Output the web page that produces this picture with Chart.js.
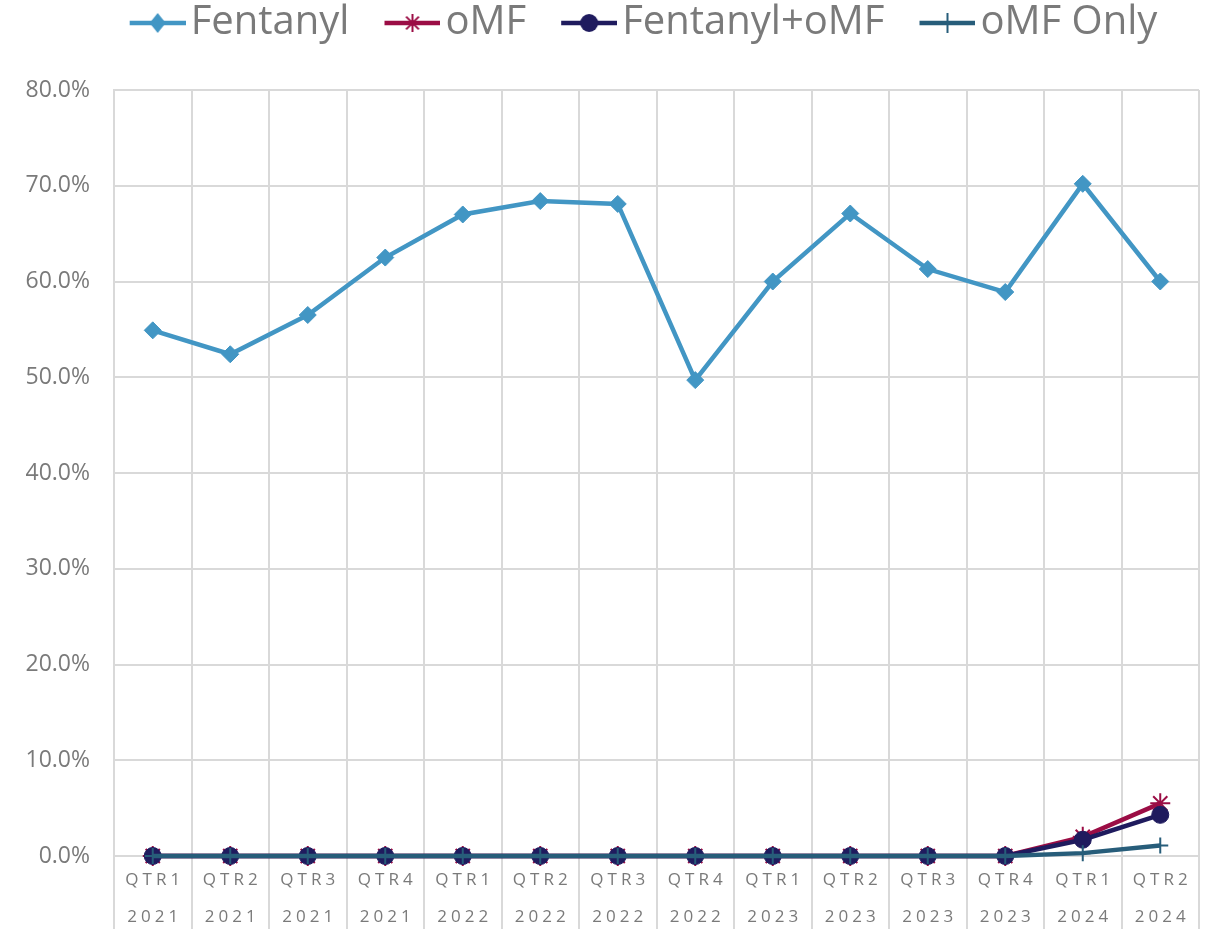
<!DOCTYPE html>
<html>
<head>
<meta charset="utf-8">
<script src="https://cdn.jsdelivr.net/npm/chart.js@4.4.1/dist/chart.umd.min.js"></script>
<style>
    html, body { margin: 0; padding: 0; background: #fff; }
    #wrap { width: 1211px; height: 929px; }
</style>
</head>
<body>
<div id="wrap"><canvas id="trendChart" width="1211" height="929"></canvas></div>
<script>
// Chart data (percent values)
const quarters = ['QTR1', 'QTR2', 'QTR3', 'QTR4', 'QTR1', 'QTR2', 'QTR3', 'QTR4', 'QTR1', 'QTR2', 'QTR3', 'QTR4', 'QTR1', 'QTR2'];
const years = ['2021', '2021', '2021', '2021', '2022', '2022', '2022', '2022', '2023', '2023', '2023', '2023', '2024', '2024'];
const fentanyl = [54.9, 52.4, 56.5, 62.5, 67.0, 68.4, 68.1, 49.7, 60.0, 67.1, 61.3, 58.9, 70.2, 60.0];
const omf = [0, 0, 0, 0, 0, 0, 0, 0, 0, 0, 0, 0, 2.0, 5.5];
const fentanylOmf = [0, 0, 0, 0, 0, 0, 0, 0, 0, 0, 0, 0, 1.7, 4.3];
const omfOnly = [0, 0, 0, 0, 0, 0, 0, 0, 0, 0, 0, 0, 0.3, 1.1];
const yMin = 0;
const yMax = 80;
const yStep = 10;

const GRID = '#D9D9D9';
const TEXT = '#7A7A7A';
const colors = {
    fentanyl: '#4296C4',
    omf: '#9B0D45',
    fentanylOmf: '#1F1B5E',
    omfOnly: '#275D7A'
};

Chart.defaults.font.family = "'Open Sans', sans-serif";

// Legend icon: short line with the series marker in the middle
function legendIcon(color, style) {
    const c = document.createElement('canvas');
    c.width = 71;
    c.height = 24;
    const g = c.getContext('2d');
    g.strokeStyle = color;
    g.fillStyle = color;
    g.lineWidth = 4.5;
    g.beginPath();
    g.moveTo(15, 12);
    g.lineTo(71, 12);
    g.stroke();
    const cx = 43, cy = 12;
    g.lineWidth = 2;
    if (style === 'rectRot') {
        g.beginPath();
        g.moveTo(cx, cy - 10);
        g.lineTo(cx + 8, cy);
        g.lineTo(cx, cy + 10);
        g.lineTo(cx - 8, cy);
        g.closePath();
        g.fill();
    } else if (style === 'circle') {
        g.beginPath();
        g.arc(cx, cy, 9, 0, Math.PI * 2);
        g.fill();
    } else if (style === 'star') {
        const r = 9, d = r * Math.SQRT1_2;
        g.beginPath();
        g.moveTo(cx, cy - r); g.lineTo(cx, cy + r);
        g.moveTo(cx - d, cy - d); g.lineTo(cx + d, cy + d);
        g.moveTo(cx - d, cy + d); g.lineTo(cx + d, cy - d);
        g.stroke();
    } else if (style === 'cross') {
        g.beginPath();
        g.moveTo(cx, cy - 10); g.lineTo(cx, cy + 10);
        g.stroke();
    }
    return c;
}

const legendIcons = [
    legendIcon(colors.fentanyl, 'rectRot'),
    legendIcon(colors.omf, 'star'),
    legendIcon(colors.fentanylOmf, 'circle'),
    legendIcon(colors.omfOnly, 'cross')
];

// Letter spacing for the category labels, legend nudged right like the original
const layoutTweaks = {
    id: 'layoutTweaks',
    afterLayout(chart) {
        if (chart.legend) {
            chart.legend.left += 43;
            chart.legend.right += 43;
        }
        const s = chart.scales.x;
        if (!s || s._spaced) return;
        const orig = s.drawLabels;
        s.drawLabels = function(area) {
            const ctx = this.ctx;
            ctx.save();
            ctx.letterSpacing = '4px';
            ctx.translate(2, 0);
            orig.call(this, area);
            ctx.restore();
        };
        s._spaced = true;
    }
};

const ctx = document.getElementById('trendChart').getContext('2d');

new Chart(ctx, {
    type: 'line',
    data: {
        labels: quarters.map((q, i) => [q, years[i]]),
        datasets: [
            {
                label: 'Fentanyl',
                data: fentanyl,
                borderColor: colors.fentanyl,
                backgroundColor: colors.fentanyl,
                borderWidth: 4.5,
                pointStyle: 'rectRot',
                pointRadius: 8.5,
                pointBorderWidth: 1,
                tension: 0,
                clip: false,
                order: 4
            },
            {
                label: 'oMF',
                data: omf,
                borderColor: colors.omf,
                backgroundColor: colors.omf,
                borderWidth: 4.5,
                pointStyle: 'star',
                pointRadius: 10,
                pointBorderWidth: 2,
                tension: 0,
                clip: false,
                order: 3
            },
            {
                label: 'Fentanyl+oMF',
                data: fentanylOmf,
                borderColor: colors.fentanylOmf,
                backgroundColor: colors.fentanylOmf,
                borderWidth: 4.5,
                pointStyle: 'circle',
                pointRadius: 8.5,
                pointBorderWidth: 1,
                tension: 0,
                clip: false,
                order: 2
            },
            {
                label: 'oMF Only',
                data: omfOnly,
                borderColor: colors.omfOnly,
                backgroundColor: colors.omfOnly,
                borderWidth: 4.5,
                pointStyle: 'cross',
                pointRadius: 8,
                pointBorderWidth: 2,
                tension: 0,
                clip: false,
                order: 1
            }
        ]
    },
    options: {
        responsive: false,
        animation: false,
        layout: {
            padding: { top: -32, left: 0, right: 10, bottom: 0 }
        },
        plugins: {
            legend: {
                display: true,
                position: 'top',
                align: 'center',
                labels: {
                    usePointStyle: true,
                    pointStyleWidth: 41,
                    padding: 35,
                    color: TEXT,
                    font: { size: 40 },
                    generateLabels: function(chart) {
                        return chart.data.datasets.map((ds, i) => ({
                            text: ds.label,
                            pointStyle: legendIcons[i],
                            fillStyle: ds.borderColor,
                            strokeStyle: ds.borderColor,
                            lineWidth: 0,
                            fontColor: TEXT,
                            hidden: false,
                            datasetIndex: i
                        }));
                    }
                }
            },
            tooltip: { enabled: false }
        },
        scales: {
            x: {
                type: 'category',
                offset: true,
                grid: {
                    offset: true,
                    color: GRID,
                    lineWidth: 2,
                    drawTicks: true,
                    tickLength: 73
                },
                border: { display: true, color: GRID, width: 2 },
                ticks: {
                    color: TEXT,
                    font: { size: 17, lineHeight: 37 / 17 },
                    padding: -67.5,
                    maxRotation: 0,
                    autoSkip: false
                },
                afterFit: function(scale) {
                    scale.height = 73;
                }
            },
            // empty spacer between legend and plot area
            x2: {
                type: 'category',
                position: 'top',
                labels: quarters,
                display: true,
                grid: { display: false },
                border: { display: false },
                ticks: { display: false },
                afterFit: function(scale) {
                    scale.height = 37;
                }
            },
            y: {
                min: yMin,
                max: yMax,
                ticks: {
                    stepSize: yStep,
                    color: TEXT,
                    font: { size: 23 },
                    padding: 24,
                    callback: function(value) {
                        return value.toFixed(1) + '%';
                    }
                },
                grid: {
                    color: GRID,
                    lineWidth: 2,
                    drawTicks: false
                },
                border: { display: true, color: GRID, width: 2 },
                afterFit: function(scale) {
                    scale.width = 114;
                }
            }
        }
    },
    plugins: [layoutTweaks]
});
</script>
</body>
</html>
